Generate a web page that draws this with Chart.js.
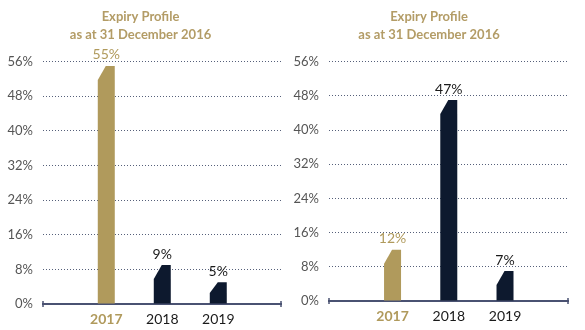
<!DOCTYPE html>
<html lang="en">
<head>
    <meta charset="UTF-8">
    <title>Expiry Profile</title>
    <style>
        body { margin: 0; background: #fff; }
        .box { position: absolute; top: 0; height: 330px; }
        #left { left: 0; width: 290px; }
        #right { left: 290px; width: 295px; }
    </style>
</head>
<body>
    <div class="box" id="left"><canvas id="chartLeft" width="290" height="330"></canvas></div>
    <div class="box" id="right"><canvas id="chartRight" width="295" height="330"></canvas></div>
<script src="https://cdn.jsdelivr.net/npm/chart.js@4.4.0/dist/chart.umd.min.js"></script>
<script>
    const years = ['2017', '2018', '2019'];
    const leftValues = [55, 9, 5];
    const rightValues = [12, 47, 7];
    const yMax = 56;
    const yStep = 8;
    const titleLines = ['Expiry Profile', 'as at 31 December 2016'];

    const GOLD = '#b09a5c';
    const NAVY = '#0d192e';
    const FONT = 'Lato, "Open Sans", sans-serif';

    // bars with the top-left corner cut off
    const chamferBars = {
        id: 'chamferBars',
        beforeDatasetDraw(chart, args) {
            const ctx = chart.ctx;
            const meta = args.meta;
            meta.data.forEach((bar, i) => {
                const p = bar.getProps(['x', 'y', 'base', 'width'], true);
                const l = p.x - p.width / 2, r = p.x + p.width / 2;
                const cutY = Math.min(14, (p.base - p.y) * 0.5);
                ctx.save();
                ctx.fillStyle = i === 0 ? GOLD : NAVY;
                ctx.beginPath();
                ctx.moveTo(l, p.base);
                ctx.lineTo(l, p.y + cutY);
                ctx.lineTo(l + 8, p.y);
                ctx.lineTo(r, p.y);
                ctx.lineTo(r, p.base);
                ctx.closePath();
                ctx.fill();
                ctx.restore();
            });
            return false;
        },
        afterDatasetsDraw(chart) {
            const ctx = chart.ctx;
            const meta = chart.getDatasetMeta(0);
            const values = chart.data.datasets[0].data;
            ctx.save();
            ctx.font = '14px ' + FONT;
            ctx.textAlign = 'center';
            ctx.textBaseline = 'middle';
            meta.data.forEach((bar, i) => {
                ctx.fillStyle = i === 0 ? GOLD : '#1a1a1a';
                ctx.fillText(values[i].y + '%', bar.x, bar.y - 11);
            });
            // small end marks on the axis line
            const a = chart.chartArea;
            ctx.strokeStyle = '#4a5272';
            ctx.lineWidth = 1.5;
            [a.left, a.right].forEach(x => {
                ctx.beginPath();
                ctx.moveTo(x, a.bottom - 3);
                ctx.lineTo(x, a.bottom + 3);
                ctx.stroke();
            });
            ctx.restore();
        }
    };

    function makeChart(id, values, yWidth, padRight, xHeight) {
        return new Chart(document.getElementById(id), {
            type: 'bar',
            data: {
                datasets: [{
                    data: values.map((v, i) => ({ x: i, y: v })),
                    backgroundColor: values.map((v, i) => i === 0 ? GOLD : NAVY),
                    barThickness: 17
                }]
            },
            plugins: [chamferBars],
            options: {
                responsive: false,
                animation: false,
                layout: { padding: { top: 0, right: padRight, left: 0, bottom: 0 } },
                plugins: {
                    legend: { display: false },
                    tooltip: { enabled: false },
                    title: {
                        display: true,
                        text: titleLines,
                        color: '#b39c66',
                        font: { family: FONT, size: 13, weight: 'bold', lineHeight: 1.35 },
                        padding: { top: 8, bottom: 18.5 }
                    }
                },
                scales: {
                    x: {
                        type: 'linear',
                        offset: false,
                        min: -1.13,
                        max: 3.12,
                        afterBuildTicks: (scale) => { scale.ticks = years.map((y, i) => ({ value: i })); },
                        afterFit: (scale) => { scale.height = xHeight; },
                        ticks: {
                            padding: 7,
                            autoSkip: false,
                            maxRotation: 0,
                            callback: (v) => years[v],
                            color: (c) => c.index === 0 ? GOLD : '#1a1a1a',
                            font: (c) => ({ family: FONT, size: 14, weight: c.index === 0 ? 'bold' : 'normal' })
                        },
                        grid: { color: 'rgba(0,0,0,0)', drawTicks: false, offset: false },
                        border: { display: true, color: '#4a5272', width: 2 }
                    },
                    y: {
                        min: 0,
                        max: yMax,
                        afterFit: (scale) => { scale.width = yWidth; },
                        ticks: {
                            stepSize: yStep,
                            padding: 10,
                            color: '#555',
                            font: { family: FONT, size: 13 },
                            callback: (v) => v + '%'
                        },
                        grid: { color: '#56607a', lineWidth: 1, drawTicks: false },
                        border: { display: false, dash: [1, 2] }
                    }
                }
            }
        });
    }

    makeChart('chartLeft', leftValues, 43, 9, 26);
    makeChart('chartRight', rightValues, 39, 17, 29);
</script>
</body>
</html>
